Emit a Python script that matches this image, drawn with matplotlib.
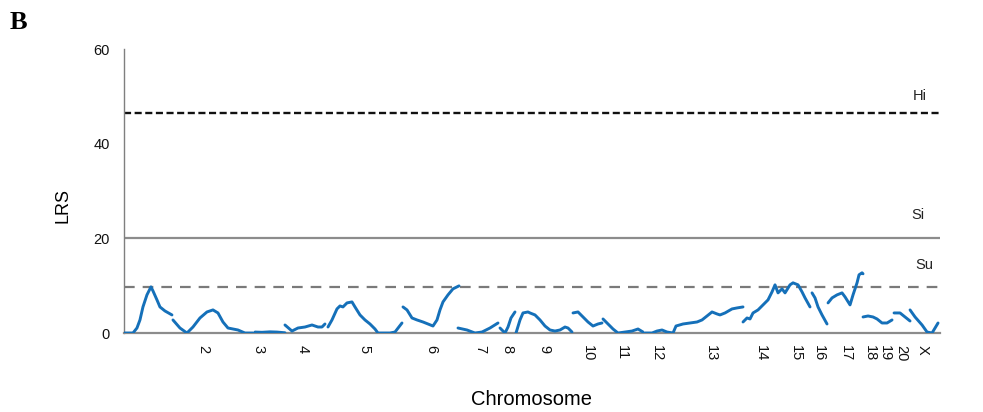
import matplotlib
matplotlib.use("Agg")
import matplotlib.pyplot as plt

plt.rcParams['font.family'] = ['Liberation Sans', 'DejaVu Sans']

# Chromosome label positions along the genome axis (arbitrary map units)
chrom_labels = ['2', '3', '4', '5', '6', '7', '8', '9', '10', '11', '12', '13',
                '14', '15', '16', '17', '18', '19', '20', 'X']
chrom_tick_pos = [79, 134, 179, 240, 307, 356, 383, 420, 464, 498, 533, 587,
                  637, 672, 695, 722, 746, 761, 777, 799]

# LRS scan, one segment per chromosome block
seg_pos = [
    [0, 9, 13, 16, 19, 23, 27, 29, 33, 36, 41, 48],
    [49, 56, 63, 69, 76, 83, 89, 94, 99, 104, 109, 114, 121, 129],
    [131, 138, 146, 153, 161],
    [161, 168, 174, 181, 188, 194, 198, 201],
    [204, 208, 213, 216, 219, 223, 228, 231, 236, 241, 246, 251, 254, 261, 266, 271, 278],
    [279, 283, 288, 293, 299, 304, 309, 313, 316, 319, 324, 329, 335],
    [334, 343, 351, 358, 366, 374],
    [376, 381, 384, 387, 391],
    [392, 396, 399, 404, 406, 411, 416, 421, 426, 431, 436, 441, 444, 448],
    [449, 454, 459, 464, 469, 474, 478],
    [479, 484, 489, 494, 501, 508, 514, 519],
    [521, 528, 533, 538, 543, 549, 552, 559, 566, 573, 578, 583, 588, 593, 596, 601, 608, 613, 619],
    [619, 623, 626, 629, 634, 639, 644, 648, 651, 654, 658, 661, 666, 669, 674, 678, 681, 686],
    [688, 691, 694, 698, 703],
    [704, 708, 713, 718, 721, 726, 729, 733, 735, 738, 739],
    [739, 744, 749, 753, 758, 763, 768],
    [770, 776, 781, 786],
    [786, 791, 798, 803, 808, 811, 814],
]
seg_lrs = [
    [0.0, 0.0, 1.06, 2.76, 5.51, 8.06, 9.75, 8.9, 7.0, 5.51, 4.66, 3.82],
    [2.76, 1.06, 0.0, 1.27, 3.18, 4.45, 4.88, 4.24, 2.33, 1.06, 0.85, 0.64, 0.0, 0.0],
    [0.2, 0.15, 0.25, 0.2, 0.05],
    [1.70, 0.42, 1.06, 1.27, 1.70, 1.27, 1.27, 1.91],
    [1.27, 2.76, 5.09, 5.72, 5.51, 6.36, 6.57, 5.51, 3.82, 2.76, 1.91, 0.85, 0.0, 0.0, 0.0, 0.21, 2.12],
    [5.51, 4.88, 3.18, 2.76, 2.33, 1.91, 1.48, 2.76, 4.88, 6.57, 8.06, 9.33, 9.96],
    [1.06, 0.64, 0.0, 0.21, 1.06, 2.12],
    [1.06, 0.0, 1.27, 3.18, 4.45],
    [0.0, 2.76, 4.24, 4.45, 4.24, 3.82, 2.76, 1.48, 0.64, 0.42, 0.64, 1.27, 1.06, 0.21],
    [4.24, 4.45, 3.39, 2.33, 1.48, 1.91, 2.12],
    [2.97, 1.91, 0.85, 0.0, 0.21, 0.42, 0.85, 0.21],
    [0.0, 0.0, 0.42, 0.64, 0.21, 0.0, 1.48, 1.91, 2.12, 2.33, 2.76, 3.60, 4.45, 4.03, 3.82, 4.24, 5.09, 5.30, 5.51],
    [2.33, 3.18, 2.97, 4.24, 4.88, 5.94, 7.0, 8.69, 10.18, 8.48, 9.33, 8.48, 10.18, 10.6, 10.18, 8.69, 7.42, 5.51],
    [8.48, 7.42, 5.51, 3.82, 1.91],
    [6.36, 7.42, 8.06, 8.48, 7.63, 5.94, 8.06, 10.6, 12.3, 12.72, 12.51],
    [3.39, 3.60, 3.39, 2.97, 2.12, 2.12, 2.76],
    [4.24, 4.24, 3.39, 2.54],
    [4.88, 3.39, 1.70, 0.21, 0.0, 1.06, 2.12],
]

# Significance thresholds
threshold_names = ['Hi', 'Si', 'Su']
threshold_values = [46.4, 20.0, 9.8]

fig = plt.figure(figsize=(9.83, 4.12), dpi=100)
ax = fig.add_axes([0.1261, 0.1917, 0.8302, 0.6893])

ax.axhline(threshold_values[0], color='#111111', lw=1.7, ls=(0, (3.0, 1.5)), zorder=1)
ax.axhline(threshold_values[1], color='#8c8c8c', lw=1.6, ls='-', zorder=1)
ax.axhline(threshold_values[2], color='#7a7a7a', lw=1.6, ls=(0, (4.8, 3.6)), zorder=1)

for xs, ys in zip(seg_pos, seg_lrs):
    ax.plot(xs, ys, color='#1570b9', lw=2.1, solid_capstyle='round', zorder=3)

label_y = [50.1, 24.9, 14.4]
label_x = [796, 794, 800]
for name, lx, ly in zip(threshold_names, label_x, label_y):
    ax.text(lx, ly, name, ha='center', va='center', fontsize=10.5, color='#222222')

ax.set_xlim(0, 816)
ax.set_ylim(0, 60)
ax.set_yticks([0, 20, 40, 60])
ax.set_xticks(chrom_tick_pos)
ax.set_xticklabels(chrom_labels, rotation=270, fontsize=10.5)
ax.tick_params(axis='both', length=0, colors='#111111')
ax.tick_params(axis='y', labelsize=10.5, pad=10)
ax.tick_params(axis='x', pad=8.5)

for s in ['top', 'right']:
    ax.spines[s].set_visible(False)
ax.spines['left'].set_color('#7f7f7f')
ax.spines['bottom'].set_color('#8c8c8c')
ax.spines['bottom'].set_linewidth(1.6)
ax.spines['left'].set_linewidth(1.0)

ax.set_ylabel('LRS', fontsize=13)
ax.set_xlabel('Chromosome', fontsize=14.5)
ax.xaxis.set_label_coords(0.5, -0.2)
ax.yaxis.set_label_coords(-0.064, 0.45)

fig.text(0.0102, 0.945, 'B', fontsize=19, fontweight='bold', family='Liberation Serif',
         ha='left', va='center')

fig.savefig('out.png', dpi=100)
